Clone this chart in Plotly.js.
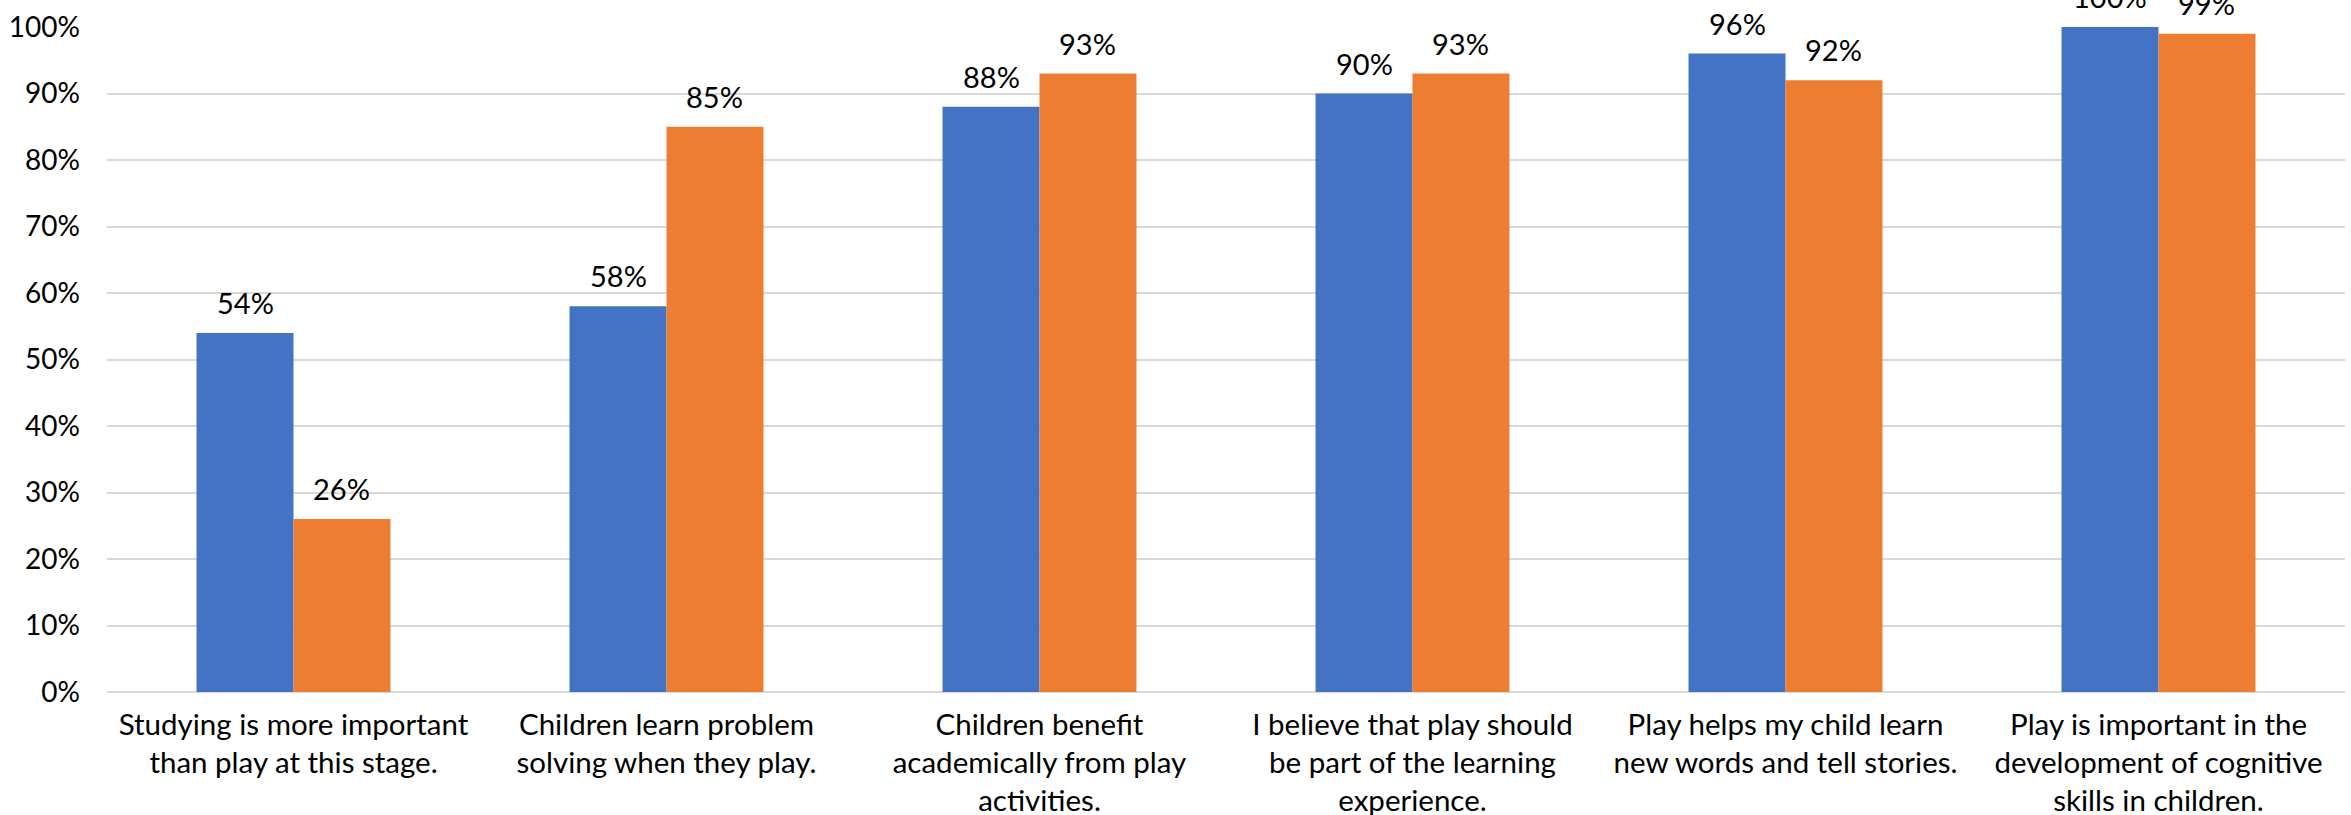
<!DOCTYPE html>
<html>
<head>
<meta charset="utf-8">
<script src="https://cdn.plot.ly/plotly-3.0.1.min.js"></script>
<style>
  html, body { margin: 0; padding: 0; background: #ffffff; }
  #chart { width: 2351px; height: 815px; }
</style>
</head>
<body>
<div id="chart"></div>
<script>
// Survey statements (x-axis categories, line-broken for display)
const statements = [
  "Studying is more important<br>than play at this stage.",
  "Children learn problem<br>solving when they play.",
  "Children benefit<br>academically from play<br>activities.",
  "I believe that play should<br>be part of the learning<br>experience.",
  "Play helps my child learn<br>new words and tell stories.",
  "Play is important in the<br>development of cognitive<br>skills in children."
];

// Share of respondents agreeing, in percent
const seriesBlue = [54, 58, 88, 90, 96, 100];
const seriesOrange = [26, 85, 93, 93, 92, 99];

// Y-axis ticks
const yTickVals = [0, 10, 20, 30, 40, 50, 60, 70, 80, 90, 100];
const yTickText = yTickVals.map(v => v + "%");

const FONT = "Lato, 'Open Sans', sans-serif";
const BLUE = "#4472C4";
const ORANGE = "#ED7D31";

const bargap = 0.48;
const barWidth = (1 - bargap) / 2;

const idx = statements.map((_, i) => i);

const traces = [
  {
    type: "bar",
    x: idx,
    y: seriesBlue,
    marker: { color: BLUE, line: { width: 0 } },
    hoverinfo: "skip"
  },
  {
    type: "bar",
    x: idx,
    y: seriesOrange,
    marker: { color: ORANGE, line: { width: 0 } },
    hoverinfo: "skip"
  }
];

// Value labels above each bar
const annotations = [];
seriesBlue.forEach((v, i) => {
  annotations.push({
    x: i - barWidth / 2, y: v, xref: "x", yref: "y",
    text: v + "%", showarrow: false, yanchor: "bottom", yshift: 11,
    font: { family: FONT, size: 29, color: "#000" }
  });
});
seriesOrange.forEach((v, i) => {
  annotations.push({
    x: i + barWidth / 2, y: v, xref: "x", yref: "y",
    text: v + "%", showarrow: false, yanchor: "bottom", yshift: 11,
    font: { family: FONT, size: 29, color: "#000" }
  });
});

const layout = {
  width: 2351,
  height: 815,
  margin: { l: 107, r: 6, t: 27, b: 123 },
  paper_bgcolor: "#ffffff",
  plot_bgcolor: "#ffffff",
  showlegend: false,
  barmode: "group",
  bargap: bargap,
  bargroupgap: 0,
  font: { family: FONT, size: 29, color: "#000" },
  xaxis: {
    tickmode: "array",
    tickvals: idx,
    ticktext: statements,
    range: [-0.5, statements.length - 0.5],
    showgrid: false,
    zeroline: false,
    showline: false,
    ticks: "",
    ticklabelstandoff: 12,
    tickfont: { family: FONT, size: 29.5, color: "#000" },
    fixedrange: true
  },
  yaxis: {
    range: [0, 100],
    tickmode: "array",
    tickvals: yTickVals,
    ticktext: yTickText,
    showgrid: true,
    gridcolor: "#D9D9D9",
    gridwidth: 2,
    zeroline: true,
    zerolinecolor: "#D9D9D9",
    zerolinewidth: 2,
    showline: false,
    ticks: "",
    ticklabelstandoff: 26,
    tickfont: { family: FONT, size: 28, color: "#000" },
    fixedrange: true
  },
  annotations: annotations
};

Plotly.newPlot("chart", traces, layout, { displayModeBar: false, staticPlot: true });
</script>
</body>
</html>
